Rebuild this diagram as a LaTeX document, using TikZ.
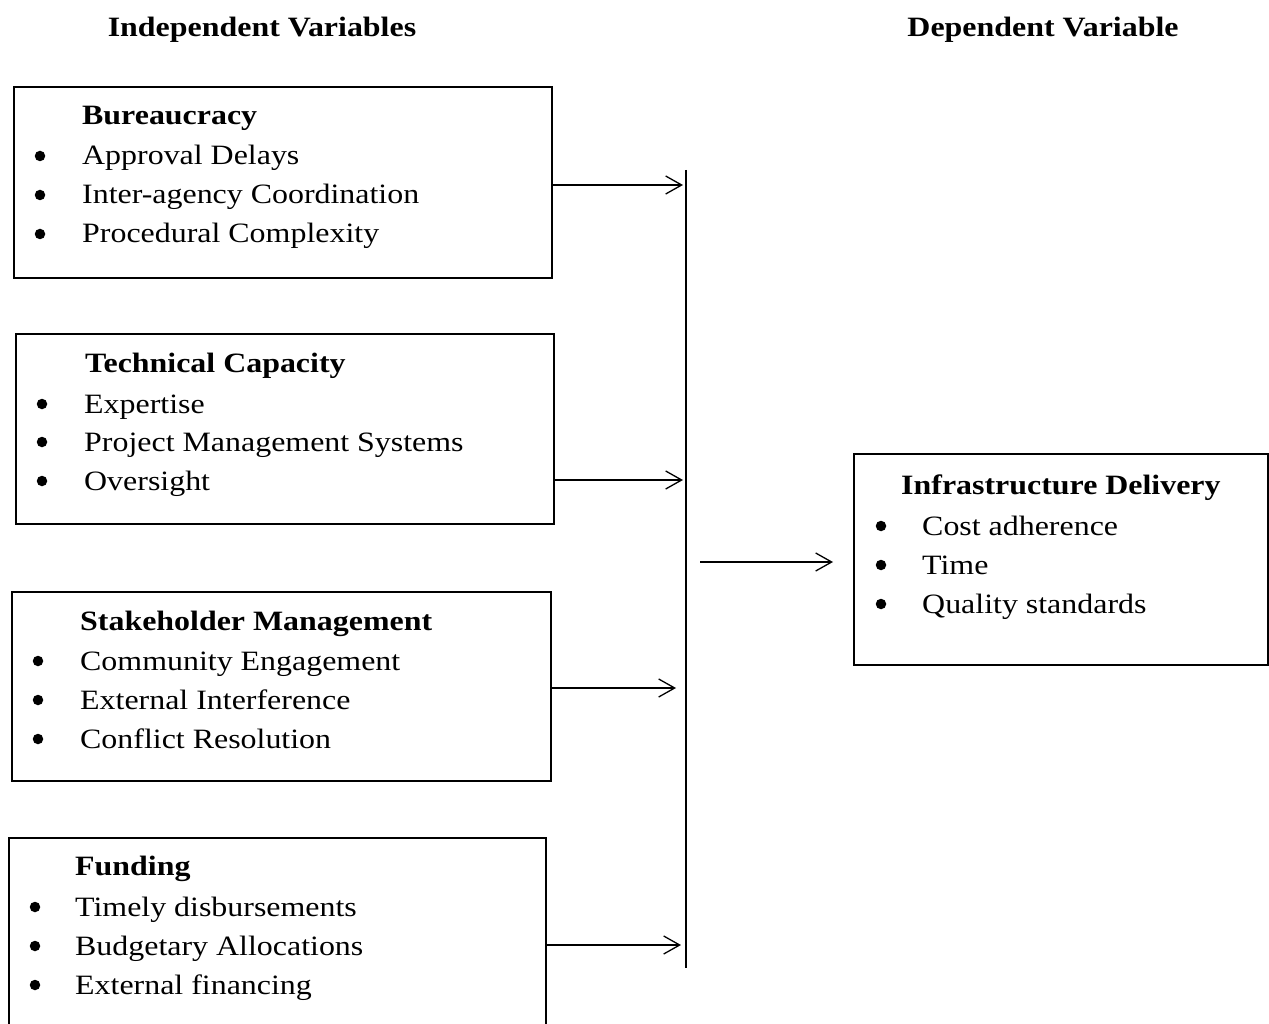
\documentclass[tikz,border=0pt]{standalone}
\usepackage{fontspec}
\setmainfont{Liberation Serif}[FakeStretch=1.14]
\usetikzlibrary{arrows.meta}
\begin{document}
\begin{tikzpicture}[x=1pt,y=-1pt,
  box/.style={draw, line width=2.4pt, inner sep=0pt, anchor=north west},
  head/.style={anchor=base west, inner sep=0pt, font=\fontsize{28}{34}\selectfont\bfseries},
  item/.style={anchor=base west, inner sep=0pt, font=\fontsize{28}{34}\selectfont},
  bul/.style={circle, fill, inner sep=0pt, minimum size=10.5pt},
  arr/.style={-{Straight Barb[length=16pt,width=18pt]}, line width=1.3pt}]
\useasboundingbox (0,0) rectangle (1269,1024);
% titles
\node[head, anchor=base] (t1) at (262,37) {Independent Variables};
\node[head, anchor=base] (t2) at (1043,37) {Dependent Variable};
% boxes
\node[box, minimum width=538pt, minimum height=191pt] (b1) at (13,86) {};
\node[box, minimum width=538pt, minimum height=190pt] (b2) at (15,333) {};
\node[box, minimum width=539pt, minimum height=189pt] (b3) at (11,591) {};
\node[box, minimum width=537pt, minimum height=200pt] (b4) at (8,837) {};
\node[box, minimum width=414pt, minimum height=211pt] (b5) at (853,453) {};
% box 1
\node[head] (h1) at (82,125) {Bureaucracy};
\node[bul] (u11) at (40,156) {}; \node[item] (i11) at (82,165) {Approval Delays};
\node[bul] (u12) at (40,195) {}; \node[item] (i12) at (82,204) {Inter-agency Coordination};
\node[bul] (u13) at (40,234) {}; \node[item] (i13) at (82,243) {Procedural Complexity};
% box 2
\node[head] (h2) at (85,372) {Technical Capacity};
\node[bul] (u21) at (42,404) {}; \node[item] (i21) at (84,413) {Expertise};
\node[bul] (u22) at (42,442) {}; \node[item] (i22) at (84,451) {Project Management Systems};
\node[bul] (u23) at (42,481) {}; \node[item] (i23) at (84,490) {Oversight};
% box 3
\node[head] (h3) at (80,630) {Stakeholder Management};
\node[bul] (u31) at (38,661) {}; \node[item] (i31) at (80,670) {Community Engagement};
\node[bul] (u32) at (38,700) {}; \node[item] (i32) at (80,709) {External Interference};
\node[bul] (u33) at (38,739) {}; \node[item] (i33) at (80,748) {Conflict Resolution};
% box 4
\node[head] (h4) at (75,875) {Funding};
\node[bul] (u41) at (35,907) {}; \node[item] (i41) at (75,916) {Timely disbursements};
\node[bul] (u42) at (35,946) {}; \node[item] (i42) at (75,955) {Budgetary Allocations};
\node[bul] (u43) at (35,985) {}; \node[item] (i43) at (75,994) {External financing};
% box 5
\node[head] (h5) at (901,494) {Infrastructure Delivery};
\node[bul] (u51) at (881,526) {}; \node[item] (i51) at (922,535) {Cost adherence};
\node[bul] (u52) at (881,565) {}; \node[item] (i52) at (922,574) {Time};
\node[bul] (u53) at (881,604) {}; \node[item] (i53) at (922,613) {Quality standards};
% connectors
\coordinate (vt) at (686,170);
\coordinate (vb) at (686,968);
\draw[line width=1.3pt] (vt) -- (vb);
\coordinate (a1) at (683,185);
\coordinate (a2) at (683,480);
\coordinate (a3) at (676,688);
\coordinate (a4) at (681,945);
\draw[arr] (b1.east |- a1) -- (a1);
\draw[arr] (b2.east |- a2) -- (a2);
\draw[arr] (b3.east |- a3) -- (a3);
\draw[arr] (b4.east |- a4) -- (a4);
\coordinate (c0) at (700,562);
\coordinate (c1) at (833,562);
\draw[arr] (c0) -- (c1);
\end{tikzpicture}
\end{document}
